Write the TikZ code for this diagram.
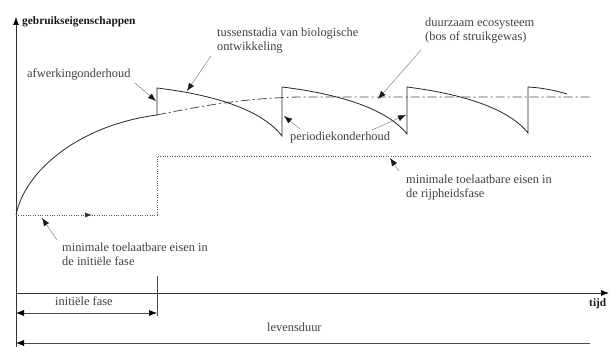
\documentclass[tikz,border=0pt]{standalone}
\usepackage{fontspec}
\setmainfont{Liberation Serif}
\usetikzlibrary{arrows.meta}
\begin{document}
\begin{tikzpicture}[x=1pt,y=-1pt,
  lbl/.style={inner sep=0pt, anchor=base west, text=black!75, font=\fontsize{12.4}{14}\selectfont},
  lbl2/.style={inner sep=0pt, anchor=north west, align=left, text=black!75, font=\fontsize{12.4}{14}\selectfont},
  blbl/.style={inner sep=0pt, anchor=base west, text=black!90, font=\bfseries\fontsize{11.4}{13}\selectfont},
  axis/.style={line width=0.7pt, black!80},
  curve/.style={line width=0.8pt, black!85},
  conn/.style={line width=0.4pt, black!55, -{Latex[length=8pt,width=6pt,black!90]}},
  dim/.style={line width=0.5pt, black!70},
  dots/.style={line width=0.45pt, black!65, dash pattern=on 1pt off 1.4pt},
  dashdot/.style={line width=0.8pt, black!70, dash pattern=on 9pt off 3pt on 2pt off 3pt}
]
\useasboundingbox (0,0) rectangle (609,347);

% axes
\coordinate (yb) at (16,347);
\coordinate (yt) at (16,17);
\coordinate (xl) at (16,293);
\coordinate (xr) at (609,293);
\draw[axis,-{Latex[length=8pt,width=6pt,black]}] (yb) -- (yt);
\draw[axis,-{Latex[length=8pt,width=6pt,black]}] (xl) -- (xr);
\node[blbl] (ylab) at (22,25) {gebruikseigenschappen};
\node[blbl] (xlab) at (589,306) {tijd};

% minimum requirement (dotted)
\coordinate (d0) at (16,215);
\coordinate (dm) at (92,215);
\coordinate (d1) at (157,215);
\coordinate (d2) at (157,156);
\coordinate (d3) at (590,156);
\draw[dots,-{Latex[length=7pt,width=5pt,black!80]}] (d0) -- (dm);
\draw[dots] (dm) -- (d1) -- (d2) -- (d3);

% sustainable ecosystem (dash-dot)
\coordinate (e0) at (157,115);
\coordinate (e1) at (300,97);
\coordinate (e2) at (592,97);
\draw[dashdot] (e0) .. controls (210,104) and (250,98) .. (e1) -- (e2);

% sawtooth curve
\coordinate (c0) at (16,215);
\coordinate (c1) at (157,115);
\coordinate (c2) at (157,88);
\coordinate (c3) at (282,136);
\coordinate (c4) at (282,87);
\coordinate (c5) at (407,134);
\coordinate (c6) at (407,87);
\coordinate (c7) at (528,133);
\coordinate (c8) at (528,87);
\coordinate (c9) at (567,94);
\draw[curve] (c0) .. controls (25,170) and (80,125) .. (c1) -- (c2)
  .. controls (215,95) and (262,110) .. (c3) -- (c4)
  .. controls (340,94) and (387,109) .. (c5) -- (c6)
  .. controls (462,94) and (508,108) .. (c7) -- (c8)
  .. controls (545,88) and (557,91) .. (c9);

% labels
\node[lbl] (afw) at (27,78) {afwerkingonderhoud};
\node[lbl2] (tus) at (217,28) {tussenstadia van biologische\\ontwikkeling};
\node[lbl2] (duu) at (425,18) {duurzaam ecosysteem\\(bos of struikgewas)};
\node[lbl] (per) at (290,141) {periodiekonderhoud};
\node[lbl2] (rij) at (406,175) {minimale toelaatbare eisen in\\de rijpheidsfase};
\node[lbl2] (ini) at (62,243) {minimale toelaatbare eisen in\\de initiële fase};
\node[lbl] (inf) at (55,305) {initiële fase};
\node[lbl] (lev) at (267,331) {levensduur};

% connectors
\coordinate (a1s) at (135,83);   \coordinate (a1e) at (156,101);
\coordinate (a2s) at (211,56);   \coordinate (a2e) at (187,91);
\coordinate (a3s) at (421,50);   \coordinate (a3e) at (378,99);
\coordinate (a4s) at (300,129);  \coordinate (a4e) at (284,116);
\coordinate (a5s) at (372,130);  \coordinate (a5e) at (406,115);
\coordinate (a6s) at (399,171);  \coordinate (a6e) at (390,158);
\coordinate (a7s) at (57,240);   \coordinate (a7e) at (42,218);
\draw[conn] (a1s) -- (a1e);
\draw[conn] (a2s) -- (a2e);
\draw[conn] (a3s) -- (a3e);
\draw[conn] (a4s) -- (a4e);
\draw[conn] (a5s) -- (a5e);
\draw[conn] (a6s) -- (a6e);
\draw[conn] (a7s) -- (a7e);

% dimension lines
\coordinate (t0) at (157,276);
\coordinate (t1) at (157,316);
\draw[dim] (t0) -- (t1);
\coordinate (i0) at (16,313);
\coordinate (i1) at (157,313);
\draw[dim,{Latex[length=8pt,width=6pt,black]}-{Latex[length=8pt,width=6pt,black]}] (i0) -- (i1);
\coordinate (l0) at (16,343);
\coordinate (l1) at (590,343);
\draw[dim,{Latex[length=8pt,width=6pt,black]}-] (l0) -- (l1);
\end{tikzpicture}
\end{document}
